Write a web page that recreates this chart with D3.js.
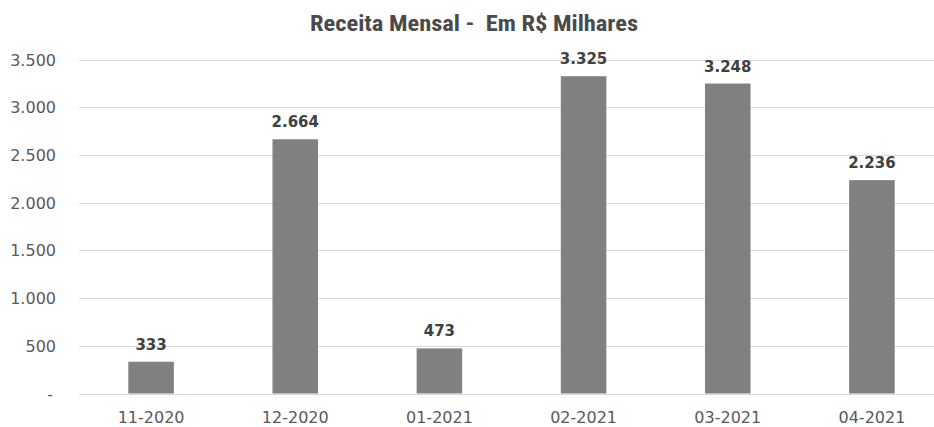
<!DOCTYPE html>
<html>
<head>
<meta charset="utf-8">
<script src="https://cdn.jsdelivr.net/npm/d3@7"></script>
<style>
  html, body { margin: 0; padding: 0; background: #fff; }
  svg { display: block; }
</style>
</head>
<body>
<svg id="chart"></svg>
<script>
// dados
var months = ["11-2020", "12-2020", "01-2021", "02-2021", "03-2021", "04-2021"];
var revenue = [333, 2664, 473, 3325, 3248, 2236];
var yTicks = [0, 500, 1000, 1500, 2000, 2500, 3000, 3500];
var chartTitle = "Receita Mensal -  Em R$ Milhares";

var W = 934, H = 427;

var svg = d3.select("#chart")
    .attr("width", W)
    .attr("height", H);

var ptBR = d3.formatLocale({ decimal: ",", thousands: ".", grouping: [3], currency: ["R$", ""] });
var fmt = ptBR.format(",d");

var x = d3.scaleBand()
    .domain(months)
    .range([79, 944])
    .paddingInner(0.684)
    .paddingOuter(0.342);

var y = d3.scaleLinear()
    .domain([0, 3500])
    .range([393.5, 59.5]);

// linhas de grade
svg.append("g")
    .selectAll("line")
    .data(yTicks)
    .join("line")
    .attr("x1", 79)
    .attr("x2", W)
    .attr("y1", d => Math.round(y(d)) + 0.5)
    .attr("y2", d => Math.round(y(d)) + 0.5)
    .attr("stroke", "#d9d9d9")
    .attr("stroke-width", 1);

// eixo y
var yAxis = svg.append("g")
    .attr("transform", "translate(56,0)")
    .call(d3.axisLeft(y).tickValues(yTicks).tickSize(0).tickPadding(0)
        .tickFormat(d => d === 0 ? "-" : fmt(d)));
yAxis.select(".domain").remove();
yAxis.selectAll("text")
    .attr("font-family", "DejaVu Sans, sans-serif")
    .attr("font-size", 16)
    .attr("fill", "#595959")
    .attr("dy", "0.35em")
    .attr("dx", d => d === 0 ? -3 : 0);

// eixo x
var xAxis = svg.append("g")
    .attr("transform", "translate(0,393.5)")
    .call(d3.axisBottom(x).tickSize(0).tickPadding(0));
xAxis.select(".domain").remove();
xAxis.selectAll("text")
    .attr("font-family", "DejaVu Sans, sans-serif")
    .attr("font-size", 16)
    .attr("fill", "#595959")
    .attr("dy", "0")
    .attr("y", 29);

// barras
svg.append("g")
    .selectAll("rect")
    .data(revenue)
    .join("rect")
    .attr("x", (d, i) => x(months[i]))
    .attr("width", x.bandwidth())
    .attr("y", d => y(d))
    .attr("height", d => y(0) - y(d))
    .attr("fill", "#808080");

// rótulos de valor
svg.append("g")
    .selectAll("text")
    .data(revenue)
    .join("text")
    .attr("x", (d, i) => x(months[i]) + x.bandwidth() / 2)
    .attr("y", d => y(d) - 12)
    .attr("text-anchor", "middle")
    .attr("font-family", "DejaVu Sans, sans-serif")
    .attr("font-weight", "bold")
    .attr("font-size", 15)
    .attr("fill", "#404040")
    .text(d => fmt(d));

// título
svg.append("text")
    .attr("x", 474)
    .attr("y", 31)
    .attr("text-anchor", "middle")
    .attr("font-family", "Liberation Sans Narrow, Roboto Condensed, Liberation Sans, sans-serif")
    .attr("font-weight", "bold")
    .attr("font-size", 22)
    .attr("textLength", 328)
    .attr("lengthAdjust", "spacingAndGlyphs")
    .attr("fill", "#4a4a4a")
    .attr("xml:space", "preserve")
    .style("white-space", "pre")
    .text(chartTitle);
</script>
</body>
</html>
